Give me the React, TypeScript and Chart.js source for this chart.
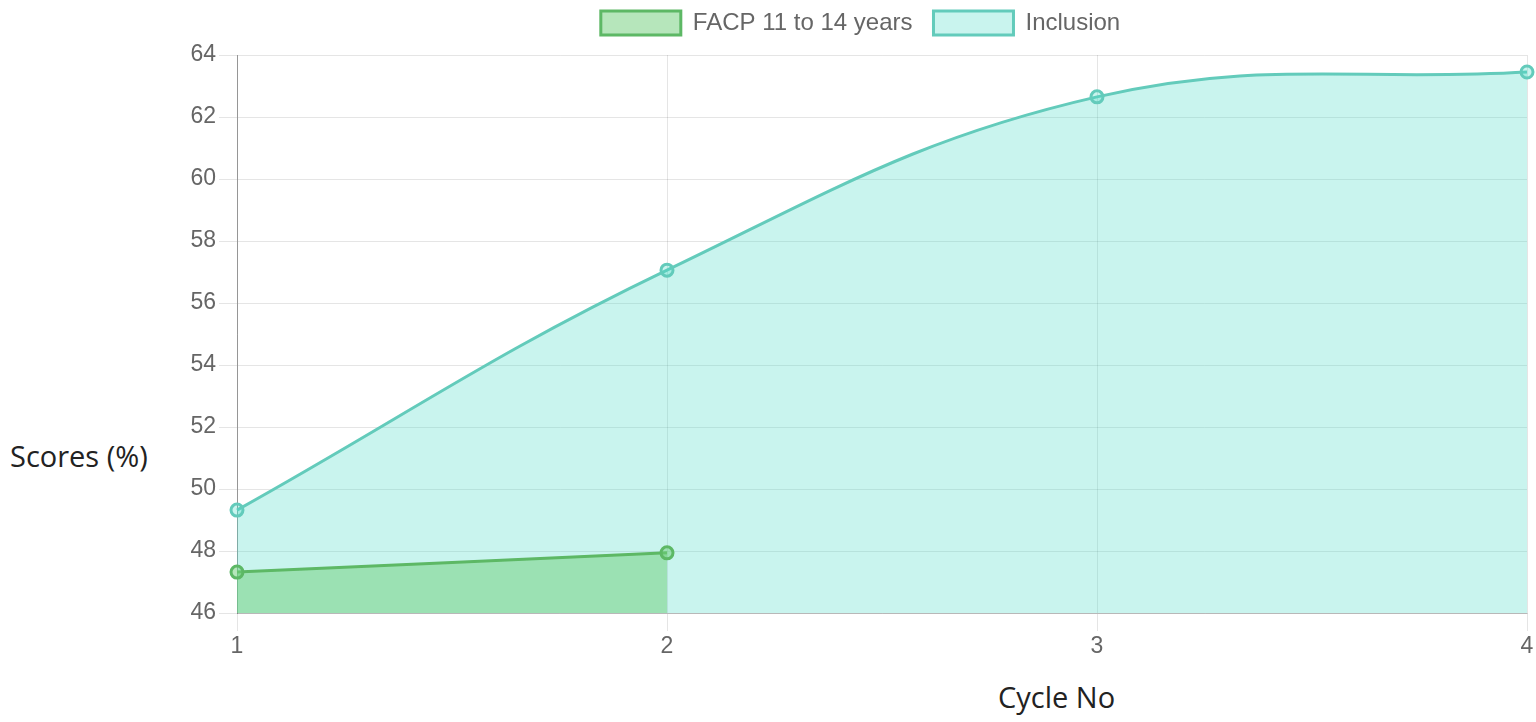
import React, { useEffect, useRef } from "react";
import { Chart, registerables } from "chart.js";

Chart.register(...registerables);

const cycles = ["1", "2", "3", "4"];
const facpValues = [47.32, 47.94];
const inclusionValues = [49.32, 57.06, 62.65, 63.45];
const yMin = 46;
const yMax = 64;
const yStep = 2;

const FONT = "'Liberation Sans', Arial, Helvetica, sans-serif";

const legendSpacer = {
  id: "legendSpacer",
  beforeLayout(chart: any) {
    const lg: any = chart.legend;
    if (lg && !lg._spacerPatched) {
      const orig = lg.fit;
      lg.fit = function () {
        orig.call(this);
        this.height += 10;
      };
      lg._spacerPatched = true;
    }
  },
};

export default function App() {
  const canvasRef = useRef<HTMLCanvasElement | null>(null);

  useEffect(() => {
    document.body.style.margin = "0";
    const ctx = canvasRef.current!.getContext("2d")!;
    const chart = new Chart(ctx, {
      type: "line",
      data: {
        labels: cycles,
        datasets: [
          {
            label: "FACP 11 to 14 years",
            data: facpValues,
            borderColor: "#5db865",
            backgroundColor: "rgba(110, 205, 120, 0.5)",
            pointBackgroundColor: "rgba(110, 205, 120, 0.5)",
            pointBorderColor: "#5db865",
            borderWidth: 3,
            pointRadius: 6,
            pointBorderWidth: 3,
            fill: "origin",
            tension: 0.4,
            order: 0,
          },
          {
            label: "Inclusion",
            data: inclusionValues,
            borderColor: "#63cbbb",
            backgroundColor: "rgba(75, 220, 200, 0.3)",
            pointBackgroundColor: "rgba(75, 220, 200, 0.3)",
            pointBorderColor: "#63cbbb",
            borderWidth: 3,
            pointRadius: 6,
            pointBorderWidth: 3,
            fill: "origin",
            tension: 0.4,
            order: 1,
          },
        ],
      },
      options: {
        animation: false,
        responsive: false,
        maintainAspectRatio: false,
        layout: { padding: { top: -10, right: 5, left: 0, bottom: 0 } },
        plugins: {
          legend: {
            display: true,
            position: "top",
            labels: {
              boxWidth: 80,
              boxHeight: 24,
              padding: 21,
              color: "#666",
              font: { family: FONT, size: 24 },
            },
          },
          tooltip: { enabled: false },
        },
        scales: {
          x: {
            offset: false,
            grid: { color: "rgba(0,0,0,0.1)", tickLength: 18 },
            border: { color: "rgba(0,0,0,0.2)" },
            ticks: {
              color: "#666",
              padding: 2,
              font: { family: FONT, size: 23 },
            },
            afterFit: (s: any) => {
              s.height = 52;
            },
          },
          y: {
            min: yMin,
            max: yMax,
            grid: { color: "rgba(0,0,0,0.1)", tickLength: 18 },
            border: { color: "rgba(0,0,0,0.35)" },
            ticks: {
              stepSize: yStep,
              color: "#666",
              padding: 3,
              font: { family: FONT, size: 23 },
            },
            afterFit: (s: any) => {
              s.width = 47;
            },
          },
        },
      },
      plugins: [legendSpacer],
    });
    return () => chart.destroy();
  }, []);

  const titleStyle: React.CSSProperties = {
    position: "absolute",
    fontFamily: "'Open Sans', 'Noto Sans', sans-serif",
    fontSize: 29,
    color: "#222",
    lineHeight: "40px",
    whiteSpace: "nowrap",
  };

  return (
    <div style={{ position: "relative", width: 1536, height: 722, background: "#fff" }}>
      <canvas
        ref={canvasRef}
        width={1346}
        height={665}
        style={{ position: "absolute", left: 190, top: 0, width: 1346, height: 665 }}
      />
      <div style={{ ...titleStyle, left: 10, top: 436 }}>Scores (%)</div>
      <div style={{ ...titleStyle, left: 998, top: 677 }}>Cycle No</div>
    </div>
  );
}
